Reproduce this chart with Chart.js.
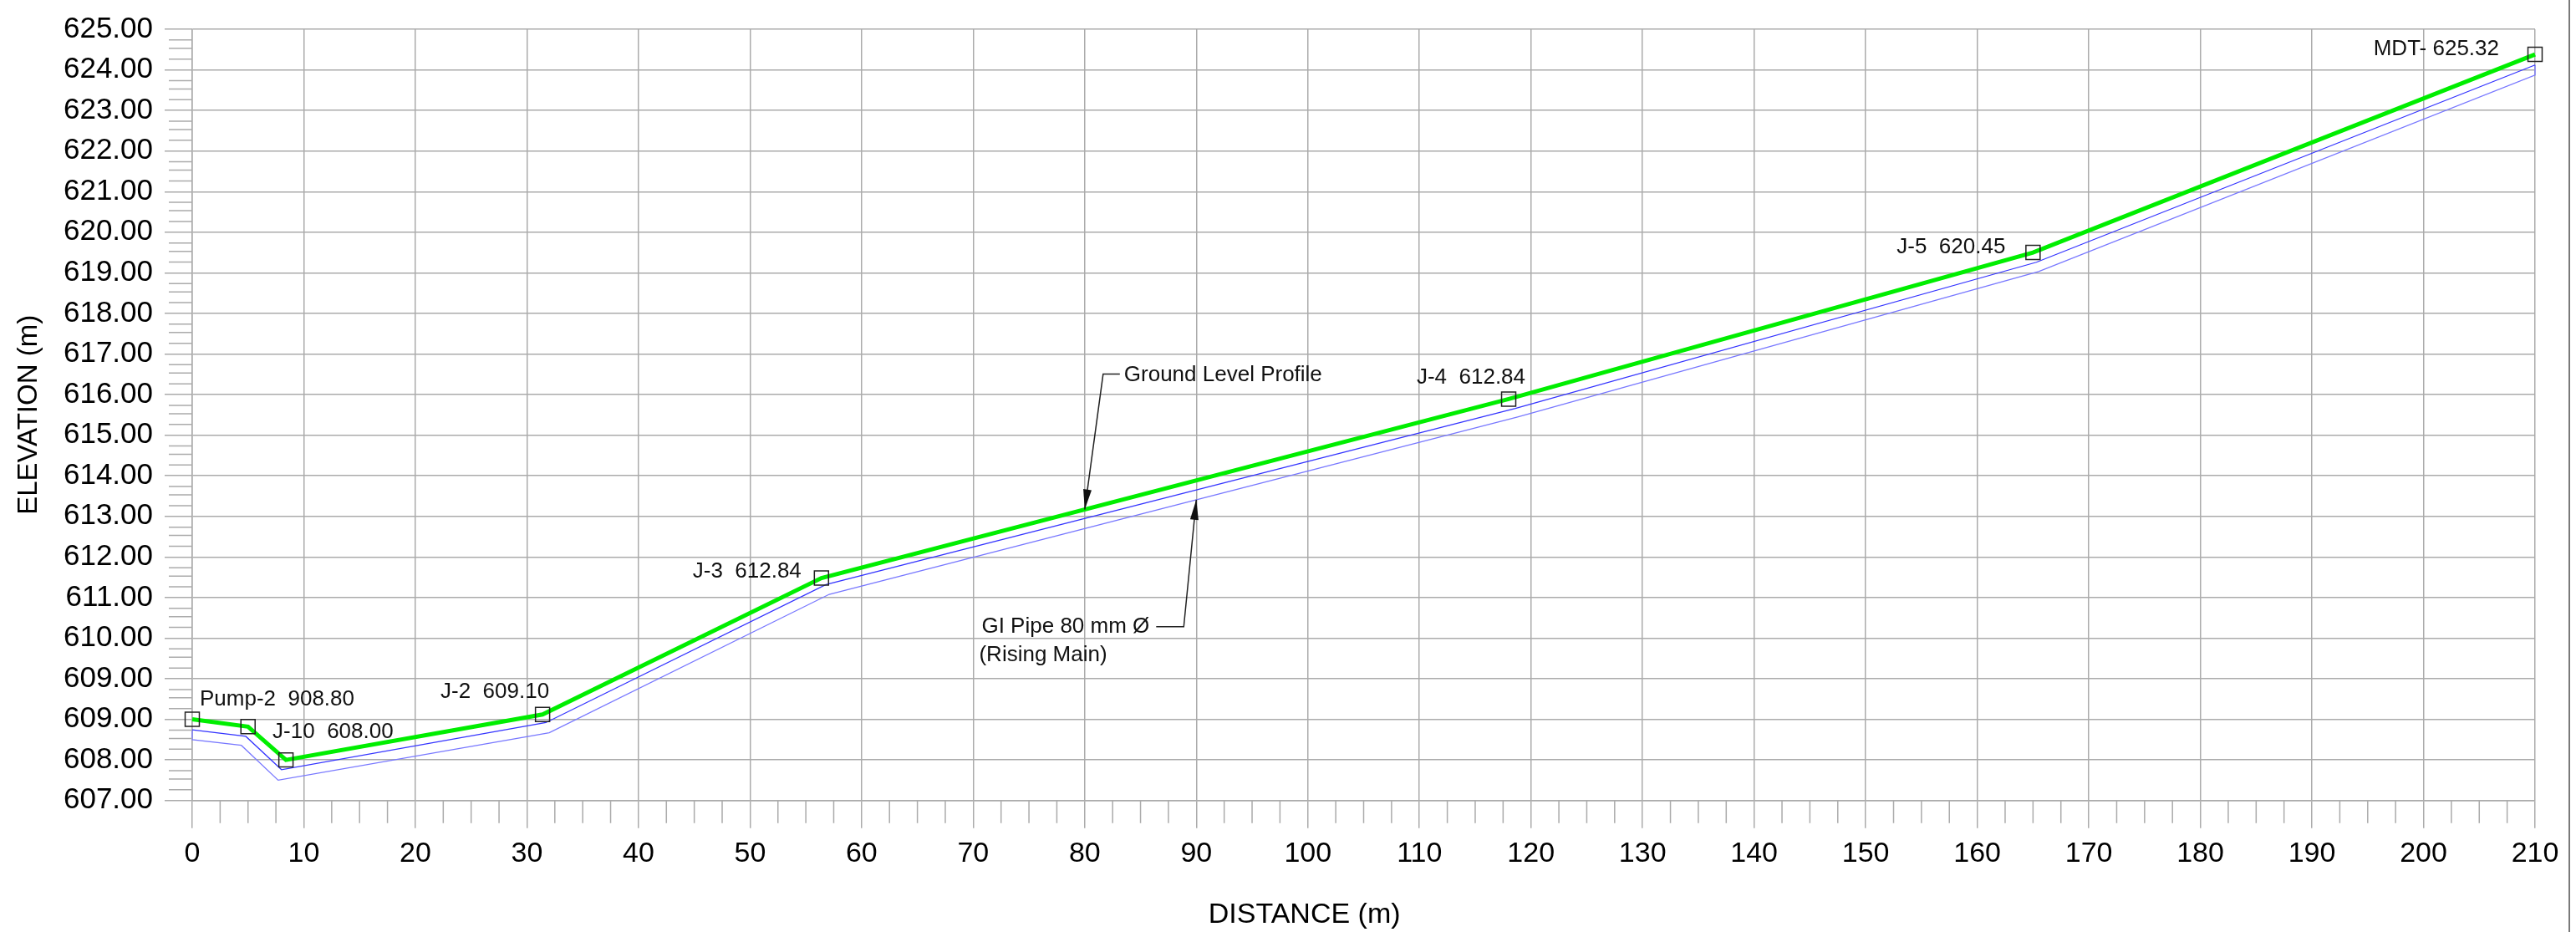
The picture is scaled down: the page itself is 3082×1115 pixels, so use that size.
<!DOCTYPE html>
<html>
<head>
<meta charset="utf-8">
<script src="https://cdn.jsdelivr.net/npm/chart.js@4.4.1/dist/chart.umd.min.js"></script>
<style>
  html, body { margin: 0; padding: 0; background: #fff; }
  #wrap { width: 3082px; height: 1115px; }
</style>
</head>
<body>
<div id="wrap"><canvas id="profileChart" width="3082" height="1115"></canvas></div>
<script>
// Ground level profile (green) - chainage (m) and elevation (m) at each node
const groundDist = [0, 5.0, 8.4, 31.4, 56.4, 118.0, 165.0, 210];
const groundElev = [609.0, 608.82, 608.0, 609.12, 612.48, 616.89, 620.5, 625.38];
const nodeLabels = ["Pump-2  908.80", "", "J-10  608.00", "J-2  609.10", "J-3  612.84", "J-4  612.84", "J-5  620.45", "MDT- 625.32"];

// GI pipe (rising main) - top and bottom lines
const pipeTopDist = [0, 4.8, 8.0, 31.7, 56.8, 118.6, 165.3, 210];
const pipeTopElev = [608.74, 608.58, 607.76, 608.92, 612.32, 616.66, 620.26, 625.12];
const pipeBotDist = [0, 4.4, 7.7, 32.0, 57.1, 118.8, 165.5, 210];
const pipeBotElev = [608.5, 608.36, 607.5, 608.67, 612.08, 616.45, 620.03, 624.87];

// axis ticks, labels as printed on the drawing
const xTicks = [0, 10, 20, 30, 40, 50, 60, 70, 80, 90, 100, 110, 120, 130, 140, 150, 160, 170, 180, 190, 200, 210];
const yTicks = [607, 608, 609, 610, 611, 612, 613, 614, 615, 616, 617, 618, 619, 620, 621, 622, 623, 624, 625, 626];
const yTickLabels = ["607.00", "608.00", "609.00", "609.00", "610.00", "611.00", "612.00", "613.00", "614.00", "615.00",
  "616.00", "617.00", "618.00", "619.00", "620.00", "621.00", "622.00", "623.00", "624.00", "625.00"];

const FONT = '"Liberation Sans", Arial, sans-serif';
const GRID = "#ababab";

// label placement next to each node: align, dx, dy (px from the node)
const labelPlace = [
  ["left", 9, -17], null, ["left", -16, -26], ["right", 8, -20],
  ["right", -24, -1], ["right", 20, -18], ["right", -33, 1], ["right", -43, 1]
];

function toPoints(xs, ys) {
  return xs.map((x, i) => ({ x: x, y: ys[i] }));
}

function interp(xs, ys, xv) {
  for (let i = 1; i < xs.length; i++) {
    if (xv <= xs[i]) {
      const t = (xv - xs[i - 1]) / (xs[i] - xs[i - 1]);
      return ys[i - 1] + t * (ys[i] - ys[i - 1]);
    }
  }
  return ys[ys.length - 1];
}

function arrowHead(ctx, tx, ty, fx, fy) {
  const a = Math.atan2(ty - fy, tx - fx);
  const len = 24, half = 5;
  ctx.beginPath();
  ctx.moveTo(tx, ty);
  ctx.lineTo(tx - len * Math.cos(a) + half * Math.sin(a), ty - len * Math.sin(a) - half * Math.cos(a));
  ctx.lineTo(tx - len * Math.cos(a) - half * Math.sin(a), ty - len * Math.sin(a) + half * Math.cos(a));
  ctx.closePath();
  ctx.fill();
}

// minor tick marks on both axes + frame line at the right edge
const minorTicks = {
  id: "minorTicks",
  afterDraw(chart) {
    const { ctx } = chart;
    const x = chart.scales.x, y = chart.scales.y;
    ctx.save();
    ctx.strokeStyle = GRID;
    ctx.lineWidth = 1.5;
    ctx.beginPath();
    for (let v = 2.5; v < 210; v += 2.5) {
      if (v % 10 === 0) continue;
      const px = x.getPixelForValue(v);
      ctx.moveTo(px, y.bottom);
      ctx.lineTo(px, y.bottom + 27);
    }
    for (let v = 607; v < 626; v++) {
      [0.265, 0.53, 0.735].forEach(f => {
        const py = y.getPixelForValue(v + f);
        ctx.moveTo(x.left - 28, py);
        ctx.lineTo(x.left, py);
      });
    }
    ctx.stroke();
    ctx.strokeStyle = "#7a7a7a";
    ctx.lineWidth = 2;
    ctx.beginPath();
    ctx.moveTo(chart.width - 8, 0);
    ctx.lineTo(chart.width - 8, chart.height);
    ctx.stroke();
    ctx.restore();
  }
};

// node labels and leader annotations
const profileNotes = {
  id: "profileNotes",
  afterDatasetsDraw(chart) {
    const { ctx } = chart;
    const x = chart.scales.x, y = chart.scales.y;
    const pts = chart.getDatasetMeta(0).data;
    ctx.save();
    ctx.fillStyle = "#111";
    ctx.font = "26px " + FONT;
    ctx.textBaseline = "alphabetic";
    pts.forEach((p, i) => {
      const lp = labelPlace[i];
      if (!lp || !nodeLabels[i]) return;
      ctx.textAlign = lp[0];
      ctx.fillText(nodeLabels[i], p.x + lp[1], p.y + lp[2]);
    });

    ctx.strokeStyle = "#222";
    ctx.fillStyle = "#111";
    ctx.lineWidth = 1.5;

    // Ground Level Profile leader
    const gx = x.getPixelForValue(80);
    const gy = y.getPixelForValue(interp(groundDist, groundElev, 80));
    ctx.beginPath();
    ctx.moveTo(gx, gy);
    ctx.lineTo(gx + 22, gy - 162);
    ctx.lineTo(gx + 42, gy - 162);
    ctx.stroke();
    arrowHead(ctx, gx, gy, gx + 22, gy - 162);
    ctx.textAlign = "left";
    ctx.fillText("Ground Level Profile", gx + 47, gy - 154);

    // GI pipe leader
    const px = x.getPixelForValue(90);
    const py = y.getPixelForValue(interp(pipeBotDist, pipeBotElev, 90));
    ctx.beginPath();
    ctx.moveTo(px, py);
    ctx.lineTo(px - 15, py + 152);
    ctx.lineTo(px - 48, py + 152);
    ctx.stroke();
    arrowHead(ctx, px, py, px - 15, py + 152);
    ctx.textAlign = "right";
    const t1 = "GI Pipe 80 mm \u00D8";
    ctx.fillText(t1, px - 56, py + 159);
    const w1 = ctx.measureText(t1).width;
    ctx.textAlign = "left";
    ctx.fillText("(Rising Main)", px - 56 - w1 - 3, py + 193);
    ctx.restore();
  }
};

new Chart(document.getElementById("profileChart"), {
  type: "scatter",
  data: {
    datasets: [
      {
        label: "Ground Level Profile",
        data: toPoints(groundDist, groundElev),
        showLine: true,
        clip: false,
        borderColor: "#00ee00",
        borderWidth: 5,
        pointStyle: "rect",
        pointRadius: 12,
        pointBorderColor: "#222",
        pointBorderWidth: 1.5,
        pointBackgroundColor: "rgba(0,0,0,0)",
        tension: 0
      },
      {
        label: "GI Pipe top",
        data: toPoints(pipeTopDist, pipeTopElev),
        showLine: true,
        clip: false,
        borderColor: "#3434ff",
        borderWidth: 1.3,
        pointRadius: 0,
        tension: 0
      },
      {
        label: "GI Pipe bottom",
        data: [{ x: pipeTopDist[0], y: pipeTopElev[0] }]
          .concat(toPoints(pipeBotDist, pipeBotElev))
          .concat([{ x: pipeTopDist[pipeTopDist.length - 1], y: pipeTopElev[pipeTopElev.length - 1] }]),
        showLine: true,
        clip: false,
        borderColor: "#7878ff",
        borderWidth: 1.3,
        pointRadius: 0,
        tension: 0
      }
    ]
  },
  options: {
    responsive: false,
    animation: false,
    devicePixelRatio: 1,
    layout: { padding: { left: 6, right: 49, top: 23, bottom: 0 } },
    plugins: {
      legend: { display: false },
      tooltip: { enabled: false }
    },
    scales: {
      x: {
        type: "linear",
        min: 0,
        max: 210,
        afterBuildTicks: s => { s.ticks = xTicks.map(v => ({ value: v })); },
        afterFit: s => { s.height = 157.3; },
        grid: { color: GRID, lineWidth: 1.5, tickLength: 33 },
        border: { color: GRID, width: 1.5 },
        ticks: {
          autoSkip: false,
          maxRotation: 0,
          padding: 11,
          color: "#000",
          font: { family: FONT, size: 34 },
          callback: v => String(v)
        },
        title: {
          display: true,
          text: "DISTANCE (m)" + "\u00A0".repeat(15),
          color: "#000",
          font: { family: FONT, size: 34 },
          padding: { top: 2, bottom: 0 }
        }
      },
      y: {
        type: "linear",
        min: 607,
        max: 626,
        afterBuildTicks: s => { s.ticks = yTicks.map(v => ({ value: v })); },
        afterFit: s => { s.width = 224; },
        grid: { color: GRID, lineWidth: 1.5, tickLength: 33 },
        border: { color: GRID, width: 1.5 },
        ticks: {
          autoSkip: false,
          padding: 14,
          color: "#000",
          font: { family: FONT, size: 35 },
          callback: (v, i) => yTickLabels[i]
        },
        title: {
          display: true,
          text: "ELEVATION (m)",
          color: "#000",
          font: { family: FONT, size: 33 },
          padding: { top: 9, bottom: 0 }
        }
      }
    }
  },
  plugins: [minorTicks, profileNotes]
});
</script>
</body>
</html>
